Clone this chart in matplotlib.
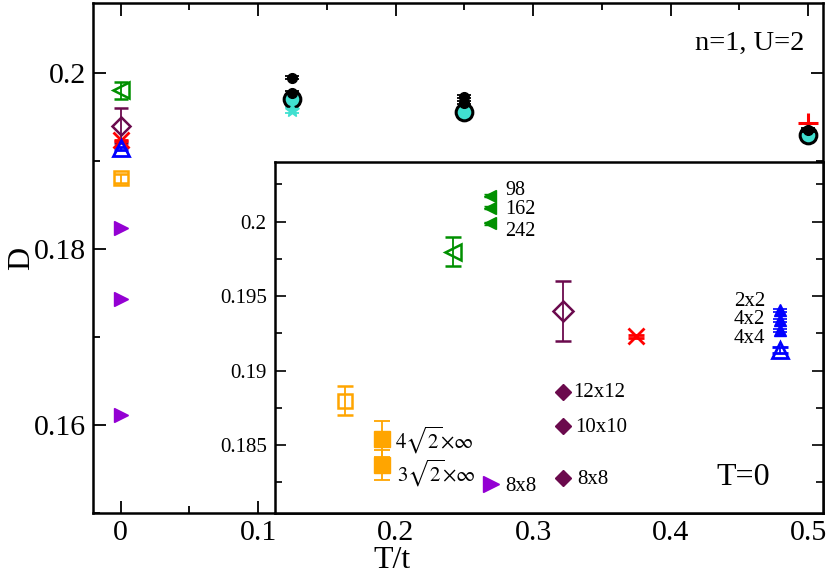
import matplotlib
matplotlib.use("Agg")
import matplotlib.pyplot as plt
from matplotlib.ticker import MultipleLocator, FuncFormatter

plt.rcParams['font.family'] = ['Liberation Serif', 'DejaVu Serif']
plt.rcParams['mathtext.fontset'] = 'stix'

# ---------------- data ----------------
# main panel, T = 0 reference values
t0_green, d0_green, e0_green = 0.0, 0.1980, 0.0010
t0_maroon, d0_maroon, e0_maroon = 0.0, 0.1940, 0.0020
t0_red, d0_red, e0_red = 0.0, 0.1923, 0.0001
t0_blue, d0_blue, e0_blue = 0.0, 0.1914, 0.0002
t0_orange, d0_orange, e0_orange = 0.0, 0.1880, 0.0005
t0_purple = [0.0, 0.0, 0.0]
d0_purple = [0.18235, 0.17434, 0.16106]

# finite temperature
t_black = [0.125, 0.125, 0.25, 0.25, 0.5]
d_black = [0.19943, 0.19773, 0.19727, 0.19659, 0.19349]
e_black = [0.0002, 0.0002, 0.0002, 0.0002, 0.0002]
t_cyan = [0.125, 0.25, 0.5]
d_cyan = [0.19698, 0.19557, 0.19292]
t_star = [0.125]
d_star = [0.19576]
e_star = [0.0003]
t_plus = [0.5]
d_plus = [0.19425]

# inset (T = 0), x positions are category slots
ix_orange_open, iy_orange_open, ie_orange_open = 0.128, 0.1880, 0.0010
ix_orange = [0.195, 0.195]
iy_orange = [0.1854, 0.18367]
ie_orange = [0.0012, 0.0010]
orange_labels = [r'$4\sqrt{2}{\times}\infty$', r'$3\sqrt{2}{\times}\infty$']
orange_lab_x = [0.219, 0.223]
orange_lab_y = [0.1853, 0.1831]

ix_green_open, iy_green_open, ie_green_open = 0.325, 0.1980, 0.0010
ix_green = [0.392, 0.392, 0.392]
iy_green = [0.20174, 0.20094, 0.19989]
ie_green = [0.0001, 0.0001, 0.0001]
green_labels = ['98', '162', '242']
green_lab_x = [0.42, 0.42, 0.42]
green_lab_y = [0.20213, 0.20079, 0.19933]

ix_purple = [0.395]
iy_purple = [0.1824]
purple_labels = ['8x8']
purple_lab_x = [0.42]
purple_lab_y = [0.1822]

ix_maroon_open, iy_maroon_open, ie_maroon_open = 0.525, 0.1940, 0.0020
ix_maroon = [0.525, 0.525, 0.525]
iy_maroon = [0.18855, 0.18631, 0.18282]
maroon_labels = ['12x12', '10x10', '8x8']
maroon_lab_x = [0.544, 0.547, 0.551]
maroon_lab_y = [0.18857, 0.18616, 0.18268]

ix_red, iy_red, ie_red = 0.659, 0.1923, 0.0001

ix_blue = [0.922, 0.922, 0.922]
iy_blue = [0.19407, 0.19340, 0.19273]
ie_blue = [0.0001, 0.0001, 0.0001]
blue_labels = ['2x2', '4x2', '4x4']
blue_lab_x = [0.894, 0.894, 0.894]
blue_lab_y = [0.19465, 0.19342, 0.19217]
ix_blue_open, iy_blue_open, ie_blue_open = 0.922, 0.1914, 0.0002

# colours
GREEN = '#009000'
MAROON = '#6b0a4d'
RED = '#ff0000'
BLUE = '#0000ff'
ORANGE = '#ffa500'
PURPLE = '#9400d3'
CYAN = '#40e0d0'

# ---------------- figure ----------------
fig = plt.figure(figsize=(8.3, 5.77), dpi=100)
W, H = 830, 577
ax = fig.add_axes([93.3 / W, (H - 513) / H, (823 - 93.3) / W, (513 - 3) / H])

eb = dict(capsize=5, elinewidth=1.3, capthick=1.3, linestyle='none')

ax.errorbar([t0_green], [d0_green], yerr=[e0_green], marker='<', ms=11, mfc='none',
            mec=GREEN, mew=1.8, color=GREEN, **eb)
ax.errorbar([t0_maroon], [d0_maroon], yerr=[e0_maroon], marker='D', ms=9, mfc='none',
            mec=MAROON, mew=1.8, color=MAROON, **eb)
ax.errorbar([t0_red], [d0_red], yerr=[e0_red], marker='x', ms=11, mew=2,
            color=RED, **eb)
ax.errorbar([t0_blue], [d0_blue], yerr=[e0_blue], marker='^', ms=11, mfc='none',
            mec=BLUE, mew=2, color=BLUE, **eb)
ax.errorbar([t0_orange], [d0_orange], yerr=[e0_orange], marker='s', ms=10, mfc='none',
            mec=ORANGE, mew=1.8, color=ORANGE, **eb)
ax.plot(t0_purple, d0_purple, linestyle='none', marker='>', ms=10, color=PURPLE)

ax.errorbar(t_star, d_star, yerr=e_star, marker='*', ms=10, color=CYAN, **eb)
ax.plot(t_cyan, d_cyan, linestyle='none', marker='o', ms=12, mfc=CYAN, mec='black', mew=2.2)
ax.errorbar(t_black, d_black, yerr=e_black, marker='o', ms=7, color='black', **eb)
ax.plot(t_plus, d_plus, linestyle='none', marker='+', ms=14, mew=2.2, color=RED)

ax.set_xlim(-0.0198, 0.5109)
ax.set_ylim(0.14997, 0.20792)
ax.xaxis.set_major_locator(MultipleLocator(0.1))
ax.xaxis.set_minor_locator(MultipleLocator(0.05))
ax.yaxis.set_major_locator(MultipleLocator(0.02))
ax.yaxis.set_minor_locator(MultipleLocator(0.01))
ax.xaxis.set_major_formatter(FuncFormatter(lambda v, p: f'{v:g}'))
ax.yaxis.set_major_formatter(FuncFormatter(lambda v, p: f'{v:g}'))
ax.tick_params(which='both', direction='in', top=True, right=True, width=1.3,
               labelsize=21.5)
ax.tick_params(axis='x', pad=5)
ax.tick_params(axis='y', pad=5)
ax.tick_params(which='major', length=9)
ax.tick_params(which='minor', length=5)
for s in ax.spines.values():
    s.set_linewidth(1.8)
ax.set_xlabel('T/t', fontsize=23)
ax.set_ylabel('D', fontsize=23)
ax.xaxis.label.set_va('baseline')
ax.xaxis.set_label_coords(0.41, -0.108)
ax.yaxis.set_label_coords(-0.078, 0.5)
ax.text(0.975, 0.92, 'n=1, U=2', transform=ax.transAxes, ha='right', va='center',
        fontsize=20.5)

# ---------------- inset ----------------
ins = fig.add_axes([275 / W, (H - 513) / H, (823 - 275) / W, (513 - 161.7) / H])
ins.set_zorder(3)
ins.patch.set_facecolor('white')

ieb = dict(capsize=6, elinewidth=1.3, capthick=1.3, linestyle='none')
ins.errorbar([ix_orange_open], [iy_orange_open], yerr=[ie_orange_open], marker='s', ms=10,
             mfc='none', mec=ORANGE, mew=1.8, color=ORANGE, **ieb)
ins.errorbar(ix_orange, iy_orange, yerr=ie_orange, marker='s', ms=11, color=ORANGE, **ieb)
ins.errorbar([ix_green_open], [iy_green_open], yerr=[ie_green_open], marker='<', ms=12,
             mfc='none', mec=GREEN, mew=1.8, color=GREEN, **ieb)
ins.errorbar(ix_green, iy_green, yerr=ie_green, marker='<', ms=8, color=GREEN,
             capsize=4, elinewidth=1, capthick=1, linestyle='none')
ins.plot(ix_purple, iy_purple, linestyle='none', marker='>', ms=11, color=PURPLE)
ins.errorbar([ix_maroon_open], [iy_maroon_open], yerr=[ie_maroon_open], marker='D', ms=10,
             mfc='none', mec=MAROON, mew=1.8, color=MAROON, **ieb)
ins.plot(ix_maroon, iy_maroon, linestyle='none', marker='D', ms=8, color=MAROON)
ins.errorbar([ix_red], [iy_red], yerr=[ie_red], marker='x', ms=12, mew=2, color=RED, **ieb)
ins.errorbar(ix_blue, iy_blue, yerr=ie_blue, marker='^', ms=9, color=BLUE,
             capsize=5, elinewidth=1, capthick=1.2, linestyle='none')
ins.errorbar([ix_blue_open], [iy_blue_open], yerr=[ie_blue_open], marker='^', ms=12,
             mfc='none', mec=BLUE, mew=2, color=BLUE, **ieb)

for lab, x, y in zip(green_labels, green_lab_x, green_lab_y):
    ins.text(x, y, lab, ha='left', va='center', fontsize=14.5)
for lab, x, y in zip(orange_labels, orange_lab_x, orange_lab_y):
    ins.text(x, y, lab, ha='left', va='center', fontsize=15)
for lab, x, y in zip(purple_labels, purple_lab_x, purple_lab_y):
    ins.text(x, y, lab, ha='left', va='center', fontsize=15)
for lab, x, y in zip(maroon_labels, maroon_lab_x, maroon_lab_y):
    ins.text(x, y, lab, ha='left', va='center', fontsize=15)
for lab, x, y in zip(blue_labels, blue_lab_x, blue_lab_y):
    ins.text(x, y, lab, ha='right', va='center', fontsize=15)
ins.text(0.903, 0.10, 'T=0', transform=ins.transAxes, ha='right', va='center', fontsize=23)

ins.set_xlim(0, 1)
ins.set_ylim(0.18045, 0.20403)
ins.yaxis.set_major_locator(MultipleLocator(0.005))
ins.yaxis.set_minor_locator(MultipleLocator(0.0025))
ins.yaxis.set_major_formatter(FuncFormatter(lambda v, p: f'{v:g}'))
ins.set_xticks([])
ins.tick_params(axis='y', which='both', direction='in', left=True, right=True,
                width=1.2, labelsize=15, pad=6)
ins.tick_params(axis='y', which='major', length=8)
ins.tick_params(axis='y', which='minor', length=5)
for s in ins.spines.values():
    s.set_linewidth(1.8)

fig.savefig('out.png', dpi=100)
